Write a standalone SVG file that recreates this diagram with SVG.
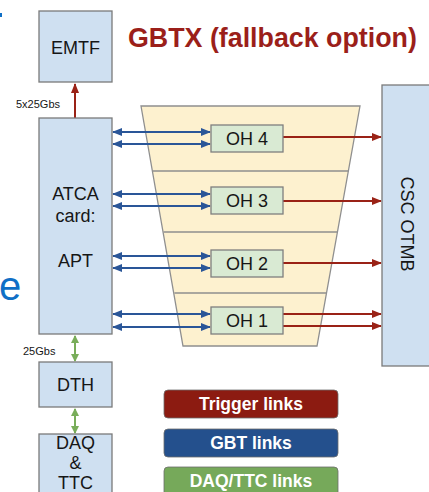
<svg xmlns="http://www.w3.org/2000/svg" width="429" height="492" viewBox="0 0 429 492">
<style>
.box{fill:#cfe0f1;stroke:#7a7a7a;stroke-width:1.3}
.oh{fill:#d9ead3;stroke:#7f7f7f;stroke-width:1.3}
.t{font-family:"Liberation Sans",Arial,sans-serif;font-size:18px;fill:#161616;text-anchor:middle}
.lbl{font-family:"Liberation Sans",Arial,sans-serif;font-size:11px;fill:#161616}
.red{stroke:#9a2216;stroke-width:2;fill:none}
.blue{stroke:#2a5698;stroke-width:2;fill:none}
.green{stroke:#79ad5a;stroke-width:2;fill:none}
.leg{font-family:"Liberation Sans",Arial,sans-serif;font-size:17.5px;font-weight:bold;fill:#fff;text-anchor:middle}
</style>
<defs>
<marker id="ar" markerUnits="userSpaceOnUse" markerWidth="10" markerHeight="8" refX="9" refY="4" orient="auto-start-reverse"><path d="M0,0 L10,4 L0,8 z" fill="#9a2216"/></marker>
<marker id="ab" markerUnits="userSpaceOnUse" markerWidth="10" markerHeight="8" refX="9" refY="4" orient="auto-start-reverse"><path d="M0,0 L10,4 L0,8 z" fill="#2a5698"/></marker>
<marker id="ag" markerUnits="userSpaceOnUse" markerWidth="8" markerHeight="8" refX="7" refY="4" orient="auto-start-reverse"><path d="M0,0 L8,4 L0,8 z" fill="#79ad5a"/></marker>
</defs>
<rect width="429" height="492" fill="#fff"/>
<rect x="0" y="13" width="2" height="4" fill="#0f6fc6"/>
<text x="-1" y="300" font-family="Liberation Sans,Arial,sans-serif" font-size="40" fill="#0f6fc6">e</text>
<text x="128" y="47" font-family="Liberation Sans,Arial,sans-serif" font-size="26.8" font-weight="bold" fill="#9b1f1a">GBTX (fallback option)</text>
<g id="trapezoid">
<path d="M141,106 L360,106 L317,346 L183,346 Z" fill="#fdf1cf" stroke="#8f8f8f" stroke-width="1.3"/>
<path d="M152.6,171 L348.4,171 M163.5,232 L337.5,232 M174.4,293 L326.6,293" stroke="#8f8f8f" stroke-width="1.3"/>
</g>
<g id="connectors">
<path class="red" d="M75,118 L75,84" marker-end="url(#ar)"/>
<path class="blue" d="M113,132 L210,132" marker-start="url(#ab)" marker-end="url(#ab)"/>
<path class="blue" d="M113,144 L210,144" marker-start="url(#ab)" marker-end="url(#ab)"/>
<path class="blue" d="M113,194 L210,194" marker-start="url(#ab)" marker-end="url(#ab)"/>
<path class="blue" d="M113,206 L210,206" marker-start="url(#ab)" marker-end="url(#ab)"/>
<path class="blue" d="M113,256 L210,256" marker-start="url(#ab)" marker-end="url(#ab)"/>
<path class="blue" d="M113,268 L210,268" marker-start="url(#ab)" marker-end="url(#ab)"/>
<path class="blue" d="M113,314 L210,314" marker-start="url(#ab)" marker-end="url(#ab)"/>
<path class="blue" d="M113,327 L210,327" marker-start="url(#ab)" marker-end="url(#ab)"/>
<path class="red" d="M283,137 L381,137" marker-end="url(#ar)"/>
<path class="red" d="M283,201 L381,201" marker-end="url(#ar)"/>
<path class="red" d="M283,263 L381,263" marker-end="url(#ar)"/>
<path class="red" d="M283,314 L381,314" marker-end="url(#ar)"/>
<path class="red" d="M283,326 L381,326" marker-end="url(#ar)"/>
<path class="green" d="M75,336 L75,361" marker-start="url(#ag)" marker-end="url(#ag)"/>
<path class="green" d="M75,409 L75,433" marker-start="url(#ag)" marker-end="url(#ag)"/>
<text class="lbl" x="16" y="108">5x25Gbs</text>
<text class="lbl" x="23" y="355">25Gbs</text>
</g>
<g id="emtf"><rect class="box" x="39" y="11" width="73" height="71"/><text class="t" x="75.5" y="54">EMTF</text></g>
<g id="atca"><rect class="box" x="39" y="118" width="73" height="216"/>
<text class="t" x="75.5" y="200">ATCA</text><text class="t" x="75.5" y="222">card:</text><text class="t" x="75.5" y="267">APT</text></g>
<g id="dth"><rect class="box" x="39" y="362" width="73" height="45"/><text class="t" x="75.5" y="391">DTH</text></g>
<g id="daq"><rect class="box" x="39" y="434" width="73" height="70"/>
<text class="t" x="75.5" y="449" font-size="16.5">DAQ</text><text class="t" x="75.5" y="469" font-size="16.5">&amp;</text><text class="t" x="75.5" y="489" font-size="16.5">TTC</text></g>
<g id="oh4"><rect class="oh" x="211" y="125" width="72" height="27"/><text class="t" x="247" y="144.5" font-size="17">OH 4</text></g>
<g id="oh3"><rect class="oh" x="211" y="187" width="72" height="27"/><text class="t" x="247" y="206.5" font-size="17">OH 3</text></g>
<g id="oh2"><rect class="oh" x="211" y="250" width="72" height="27"/><text class="t" x="247" y="269.5" font-size="17">OH 2</text></g>
<g id="oh1"><rect class="oh" x="211" y="307" width="72" height="27"/><text class="t" x="247" y="326.5" font-size="17">OH 1</text></g>
<g id="otmb"><rect class="box" x="382" y="85" width="60" height="281"/>
<text class="t" transform="translate(401,224) rotate(90)">CSC OTMB</text></g>
<g id="legend">
<rect x="164" y="390" width="174" height="28" rx="4" fill="#8c1b11" stroke="#6d6d6d" stroke-width="0.8"/>
<text class="leg" x="251" y="410">Trigger links</text>
<rect x="164" y="429" width="174" height="28" rx="4" fill="#24508d" stroke="#6d6d6d" stroke-width="0.8"/>
<text class="leg" x="251" y="449">GBT links</text>
<rect x="164" y="467" width="174" height="40" rx="4" fill="#76a95a" stroke="#6d6d6d" stroke-width="0.8"/>
<text class="leg" x="251" y="487">DAQ/TTC links</text>
</g>
</svg>
